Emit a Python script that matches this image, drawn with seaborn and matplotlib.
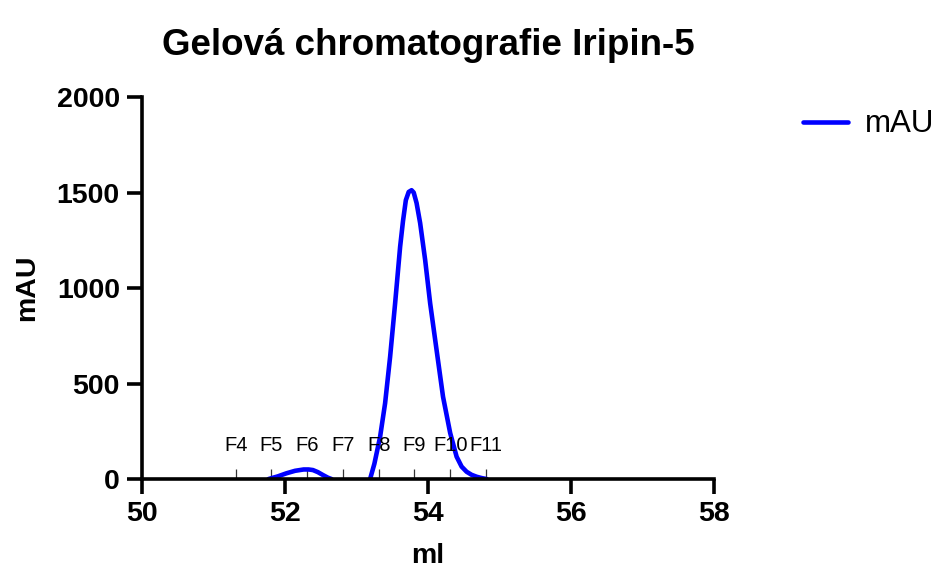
import matplotlib
matplotlib.use("Agg")
import matplotlib.pyplot as plt
import matplotlib.transforms as mtransforms
import seaborn as sns
import pandas as pd

# ---- data ----
small_ml = [51.77, 51.90, 52.02, 52.14, 52.26, 52.33, 52.39, 52.46, 52.53, 52.60, 52.65]
small_mau = [0, 14, 30, 43, 50, 50, 47, 36, 21, 7, 0]

main_ml = [53.19, 53.25, 53.33, 53.40, 53.47, 53.54, 53.61, 53.65, 53.69, 53.73, 53.77,
           53.80, 53.84, 53.89, 53.96, 54.03, 54.12, 54.21, 54.31, 54.40, 54.47, 54.54,
           54.61, 54.68, 54.75, 54.82]
main_mau = [0, 80, 221, 397, 640, 920, 1216, 1350, 1460, 1503, 1512,
            1500, 1445, 1340, 1147, 920, 675, 431, 241, 117, 65, 38,
            22, 12, 5, 0]

frac_labels = ["F4", "F5", "F6", "F7", "F8", "F9", "F10", "F11"]
frac_pos = [51.31, 51.81, 52.31, 52.81, 53.31, 53.81, 54.31, 54.81]

x_ticks = [50, 52, 54, 56, 58]
y_ticks = [0, 500, 1000, 1500, 2000]

title = "Gelová chromatografie Iripin-5"
series_name = "mAU"

df_small = pd.DataFrame({"ml": small_ml, "mAU": small_mau})
df_main = pd.DataFrame({"ml": main_ml, "mAU": main_mau})

sns.set_theme(style="ticks")
plt.rcParams["font.family"] = ["Liberation Sans", "DejaVu Sans"]
for k in ["text.color", "axes.labelcolor", "xtick.color", "ytick.color", "axes.edgecolor"]:
    plt.rcParams[k] = "black"

fig = plt.figure(figsize=(9.38, 5.73), dpi=100)
ax = fig.add_axes([0.1514, 0.1640, 0.6098, 0.6667])

blue = "#0000FF"
sns.lineplot(data=df_main, x="ml", y="mAU", ax=ax, color=blue, linewidth=3.3,
             label=series_name, sort=False, estimator=None)
sns.lineplot(data=df_small, x="ml", y="mAU", ax=ax, color=blue, linewidth=3.3,
             label="_nolegend_", sort=False, estimator=None)

ax.set_xlim(50, 58)
ax.set_ylim(0, 2000)
ax.set_xticks(x_ticks)
ax.set_yticks(y_ticks)
ax.set_xticklabels([str(v) for v in x_ticks], fontsize=20.5, fontweight="bold")
ax.set_yticklabels([str(v) for v in y_ticks], fontsize=20.5, fontweight="bold")
ax.tick_params(axis="both", length=11, width=2.6, color="black", direction="out", pad=5)

for s in ["top", "right"]:
    ax.spines[s].set_visible(False)
for s in ["left", "bottom"]:
    ax.spines[s].set_linewidth(2.6)
    ax.spines[s].set_color("black")

ax.set_xlabel("ml", fontsize=20.5, fontweight="bold", labelpad=11)
ax.set_ylabel("mAU", fontsize=20.5, fontweight="bold", labelpad=12)
ax.set_title(title, fontsize=26.5, fontweight="bold", pad=30)

# fraction markers
trans = mtransforms.blended_transform_factory(ax.transData, ax.transAxes)
ax.vlines(frac_pos, 0, 0.027, transform=trans, color="#333333", linewidth=0.9, zorder=1)
for lab, p in zip(frac_labels, frac_pos):
    ax.text(p, 0.089, lab, transform=trans, ha="center", va="center", fontsize=14.5)

ax.legend(loc="upper left", bbox_to_anchor=(0.856, 0.809), bbox_transform=fig.transFigure,
          frameon=False, fontsize=22.5, handlelength=1.45, handletextpad=0.55,
          borderpad=0, borderaxespad=0)

fig.savefig("out.png", dpi=100)
